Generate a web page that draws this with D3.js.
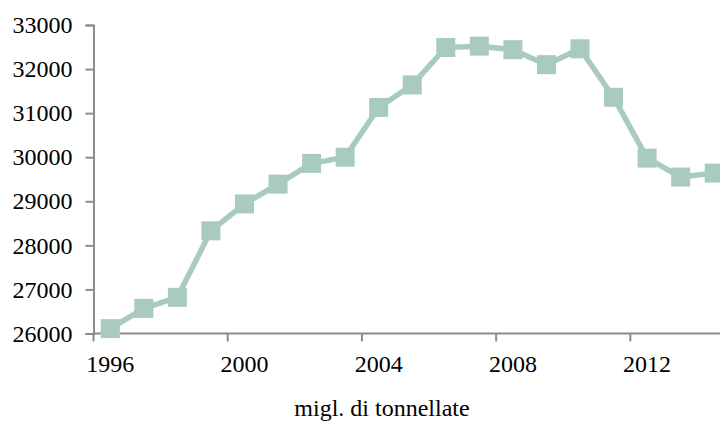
<!DOCTYPE html>
<html>
<head>
<meta charset="utf-8">
<script src="https://cdn.jsdelivr.net/npm/d3@7"></script>
<style>
  html, body { margin: 0; padding: 0; background: #fff; }
  svg { display: block; }
</style>
</head>
<body>
<svg id="chart" width="720" height="421"></svg>
<script>
const years = ["1996","1997","1998","1999","2000","2001","2002","2003","2004","2005",
               "2006","2007","2008","2009","2010","2011","2012","2013","2014"];
const values = [26110, 26570, 26820, 28330, 28940, 29390, 29860, 30000, 31130, 31640,
                32490, 32520, 32440, 32100, 32460, 31360, 29980, 29550, 29640];
const yTicks = [26000, 27000, 28000, 29000, 30000, 31000, 32000, 33000];
const xTickLabels = ["1996", "2000", "2004", "2008", "2012"];
const axisTitle = "migl. di tonnellate";

const FONT = "Liberation Serif";
const FS = 24;
const svg = d3.select("#chart");
const mLeft = 93.5, mBottom = 333.5, mTop = 25, mRight = 731;
const color = "#a8cac1";
const axisColor = "#8c8c8c";

const x = d3.scaleBand().domain(years).range([mLeft, mRight]).paddingInner(0).paddingOuter(0);
const y = d3.scaleLinear().domain([26000, 33000]).range([mBottom, mTop]);

// Y axis
const yAxis = d3.axisLeft(y).tickValues(yTicks).tickSize(8).tickPadding(13).tickFormat(d3.format("d"));
const gy = svg.append("g").attr("transform", `translate(${mLeft},0)`).call(yAxis)
  .attr("font-family", FONT).attr("font-size", FS);
gy.select(".domain").attr("stroke", axisColor).attr("stroke-width", 2);
gy.selectAll(".tick line").attr("stroke", axisColor).attr("stroke-width", 2);
gy.selectAll(".tick text").attr("font-size", FS).attr("font-family", FONT).attr("fill", "#000");

// X axis: ticks at category boundaries every 4 categories, labels at category centers
const gx = svg.append("g").attr("transform", `translate(0,${mBottom})`);
gx.append("line").attr("x1", mLeft).attr("x2", 720).attr("y1", 0).attr("y2", 0)
  .attr("stroke", axisColor).attr("stroke-width", 2);
gx.selectAll("line.tk").data(xTickLabels).join("line").attr("class", "tk")
  .attr("x1", d => x(d)).attr("x2", d => x(d)).attr("y1", 0).attr("y2", 8)
  .attr("stroke", axisColor).attr("stroke-width", 2);
gx.selectAll("text.lbl").data(xTickLabels).join("text").attr("class", "lbl")
  .attr("x", d => x(d) + x.bandwidth() / 2).attr("y", 38.5)
  .attr("text-anchor", "middle").attr("font-size", FS).attr("font-family", FONT)
  .attr("fill", "#000").text(d => d);

svg.append("text").attr("x", 382).attr("y", 416).attr("text-anchor", "middle")
  .attr("font-size", FS).attr("font-family", FONT).attr("fill", "#000").text(axisTitle);

// Line and markers
const cx = d => x(d) + x.bandwidth() / 2;
const line = d3.line().x((d, i) => cx(years[i])).y(d => y(d));
svg.append("path").datum(values).attr("d", line).attr("fill", "none")
  .attr("stroke", color).attr("stroke-width", 5.5).attr("stroke-linejoin", "round");
const ms = 19;
svg.selectAll("rect.m").data(values).join("rect").attr("class", "m")
  .attr("x", (d, i) => cx(years[i]) - ms / 2).attr("y", d => y(d) - ms / 2)
  .attr("width", ms).attr("height", ms).attr("fill", color);
</script>
</body>
</html>
